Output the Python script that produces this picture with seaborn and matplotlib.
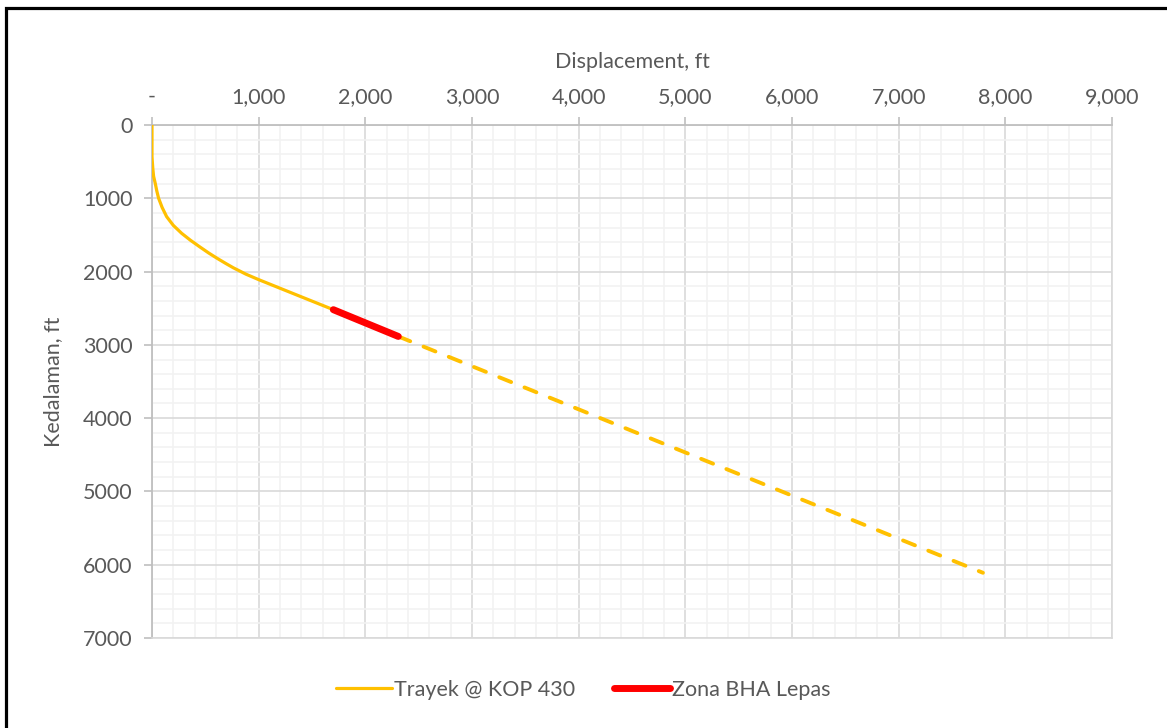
import matplotlib
matplotlib.use("Agg")
import matplotlib.pyplot as plt
import seaborn as sns
from matplotlib.ticker import MultipleLocator, FuncFormatter
from matplotlib.lines import Line2D
from matplotlib.patches import Rectangle

# ---- data (displacement ft, depth ft) ----
trayek_disp = [0, 0, 3, 8, 15, 31, 45, 62, 95, 137, 200, 278, 360, 450, 530, 606, 690,
               762, 880, 1000, 1230, 1387, 1700, 2309]
trayek_depth = [0, 430, 500, 600, 700, 800, 900, 1000, 1125, 1250, 1370, 1478, 1572, 1665,
                1745, 1815, 1888, 1948, 2035, 2110, 2245, 2337, 2520, 2885]
tangent_disp = [2309, 7790]
tangent_depth = [2885, 6110]
bha_disp = [1700, 2309]
bha_depth = [2520, 2885]

x_ticks = [0, 1000, 2000, 3000, 4000, 5000, 6000, 7000, 8000, 9000]
y_ticks = [0, 1000, 2000, 3000, 4000, 5000, 6000, 7000]

YELLOW = "#FFC000"
RED = "#FF0000"
TXT = "#595959"
FS = 15.5

sns.set_theme(style="white")
plt.rcParams["font.family"] = ["Lato", "DejaVu Sans"]

fig = plt.figure(figsize=(11.67, 7.28), dpi=100)
ax = fig.add_axes([152 / 1167, 1 - 638 / 728, (1112 - 152) / 1167, (638 - 125) / 728])

sns.lineplot(x=trayek_disp, y=trayek_depth, sort=False, estimator=None, ax=ax,
             color=YELLOW, lw=2.3, zorder=3)
sns.lineplot(x=tangent_disp, y=tangent_depth, sort=False, estimator=None, ax=ax,
             color=YELLOW, lw=2.8, zorder=3)
ax.lines[-1].set_dashes((3.3, 3.7))
ax.lines[-1].set_dash_capstyle("round")
sns.lineplot(x=bha_disp, y=bha_depth, sort=False, estimator=None, ax=ax,
             color=RED, lw=5, zorder=4)
ax.lines[-1].set_solid_capstyle("round")

ax.set_xlim(0, 9000)
ax.set_ylim(7000, 0)
ax.xaxis.set_minor_locator(MultipleLocator(200))
ax.yaxis.set_minor_locator(MultipleLocator(200))
ax.set_xticks(x_ticks)
ax.set_yticks(y_ticks)
ax.xaxis.set_major_formatter(FuncFormatter(lambda v, p: "-" if v == 0 else f"{int(v):,}"))
ax.yaxis.set_major_formatter(FuncFormatter(lambda v, p: f"{int(v)}"))

ax.grid(True, which="major", color="#D9D9D9", lw=1.2, zorder=1)
ax.grid(True, which="minor", color="#F2F2F2", lw=1.2, zorder=0)
ax.set_axisbelow(True)

ax.xaxis.tick_top()
ax.xaxis.set_label_position("top")
ax.tick_params(axis="both", which="major", length=6, width=1.2, color="#BFBFBF",
               labelsize=FS, labelcolor=TXT, pad=7)
ax.tick_params(axis="x", which="major", top=True, bottom=False)
ax.tick_params(axis="y", which="major", left=True, pad=8)
ax.tick_params(which="minor", length=0)

for s in ["top", "left"]:
    ax.spines[s].set_color("#BFBFBF")
    ax.spines[s].set_linewidth(1.3)
for s in ["right", "bottom"]:
    ax.spines[s].set_color("#D9D9D9")
    ax.spines[s].set_linewidth(1.2)

ax.set_xlabel("Displacement, ft", fontsize=FS, color=TXT, labelpad=14)
ax.set_ylabel("Kedalaman, ft", fontsize=FS, color=TXT, labelpad=14)

handles = [Line2D([], [], color=YELLOW, lw=2.3),
           Line2D([], [], color=RED, lw=5, solid_capstyle="round")]
fig.legend(handles, ["Trayek @ KOP 430", "Zona BHA Lepas"], loc="center",
           bbox_to_anchor=(0.5, 1 - 690 / 728), ncol=2, frameon=False,
           fontsize=FS, labelcolor=TXT, handlelength=2.6, handletextpad=0.1,
           columnspacing=1.8)

fig.patches.append(Rectangle((5.5 / 1167, -0.1), 1.2, 1.1 - 8.5 / 728,
                             transform=fig.transFigure, fill=False,
                             ec="black", lw=2.3, zorder=10))

fig.savefig("out.png", dpi=100, facecolor="white")
